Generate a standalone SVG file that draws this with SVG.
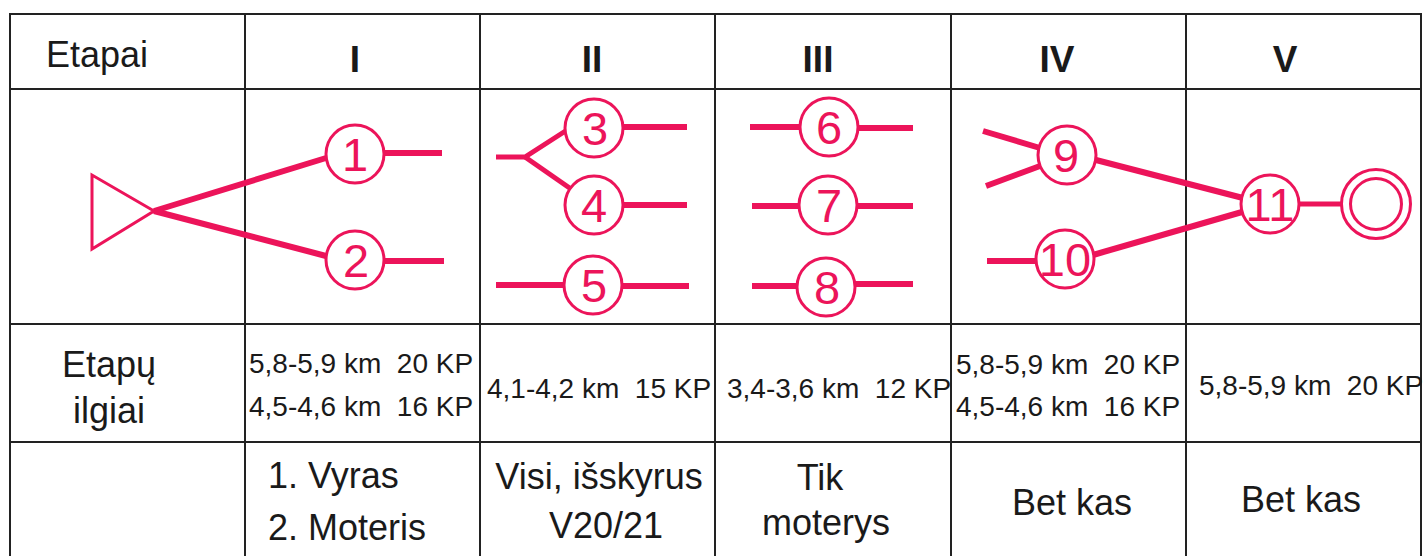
<svg xmlns="http://www.w3.org/2000/svg" width="1423" height="556" viewBox="0 0 1423 556">
<style>
.grid{stroke:#222;stroke-width:2;fill:none}
.c{fill:#fff;stroke:#EC145A;stroke-width:3}
.ln{stroke:#EC145A;stroke-width:6;fill:none;stroke-linecap:butt}
.num{font-family:"Liberation Sans",Arial,sans-serif;font-size:47px;fill:#EC145A;text-anchor:middle}
.hd{font-family:"Liberation Sans",Arial,sans-serif;font-size:36px;fill:#1a1a1a}
.rn{font-family:"Liberation Sans",Arial,sans-serif;font-size:37px;font-weight:bold;fill:#1a1a1a;text-anchor:middle}
.d{font-family:"Liberation Sans",Arial,sans-serif;font-size:28px;fill:#1a1a1a;white-space:pre}
.b{font-family:"Liberation Sans",Arial,sans-serif;font-size:36px;fill:#1a1a1a;text-anchor:middle}
</style>
<rect width="1423" height="556" fill="#fff"/>
<g id="table" class="grid">
<rect x="10" y="14" width="1411" height="560"/>
<line x1="10" y1="89" x2="1421" y2="89"/>
<line x1="10" y1="324" x2="1421" y2="324"/>
<line x1="10" y1="442" x2="1421" y2="442"/>
<line x1="245" y1="14" x2="245" y2="556"/>
<line x1="480" y1="14" x2="480" y2="556"/>
<line x1="715" y1="14" x2="715" y2="556"/>
<line x1="951" y1="14" x2="951" y2="556"/>
<line x1="1186" y1="14" x2="1186" y2="556"/>
</g>
<g id="labels">
<text class="hd" x="46" y="67">Etapai</text>
<text class="rn" x="355" y="72">I</text>
<text class="rn" x="592" y="72">II</text>
<text class="rn" x="818" y="72">III</text>
<text class="rn" x="1057" y="72">IV</text>
<text class="rn" x="1285" y="72">V</text>
<text class="hd" x="62" y="377" font-size="37">Etapų</text>
<text class="hd" x="73" y="423" font-size="37">ilgiai</text>
<text class="d" x="249" y="373">5,8-5,9 km  20 KP</text>
<text class="d" x="249" y="416">4,5-4,6 km  16 KP</text>
<text class="d" x="487" y="398">4,1-4,2 km  15 KP</text>
<text class="d" x="727" y="398">3,4-3,6 km  12 KP</text>
<text class="d" x="956" y="374">5,8-5,9 km  20 KP</text>
<text class="d" x="956" y="416">4,5-4,6 km  16 KP</text>
<text class="d" x="1199" y="395">5,8-5,9 km  20 KP</text>
<text class="hd" x="268" y="488">1. Vyras</text>
<text class="hd" x="268" y="540">2. Moteris</text>
<text class="b" x="599" y="489" font-size="37">Visi, išskyrus</text>
<text class="b" x="606" y="538">V20/21</text>
<text class="b" x="820" y="490">Tik</text>
<text class="b" x="826" y="535">moterys</text>
<text class="b" x="1072" y="515">Bet kas</text>
<text class="b" x="1301" y="512">Bet kas</text>
</g>
<g id="connectors" class="ln">
<line x1="154" y1="211" x2="326" y2="158"/>
<line x1="154" y1="211" x2="326" y2="256"/>
<line x1="384" y1="153" x2="442" y2="153"/>
<line x1="385" y1="261" x2="444" y2="261"/>
<polyline points="496,157 525,157 567,130" stroke-width="5"/>
<line x1="525" y1="157" x2="571" y2="189" stroke-width="5"/>
<line x1="623" y1="127" x2="687" y2="127"/>
<line x1="623" y1="205" x2="687" y2="205"/>
<line x1="496" y1="285" x2="564" y2="285"/>
<line x1="622" y1="286" x2="689" y2="286"/>
<line x1="750" y1="127" x2="800" y2="127"/>
<line x1="858" y1="128" x2="913" y2="128"/>
<line x1="752" y1="206" x2="799" y2="206"/>
<line x1="857" y1="206" x2="913" y2="206"/>
<line x1="752" y1="286" x2="797" y2="286"/>
<line x1="855" y1="284" x2="913" y2="284"/>
<line x1="983" y1="131" x2="1040" y2="148"/>
<line x1="986" y1="186" x2="1040" y2="166"/>
<line x1="987" y1="261" x2="1036" y2="261"/>
<line x1="1096" y1="160" x2="1243" y2="198"/>
<line x1="1093" y1="255" x2="1242" y2="212"/>
<line x1="1299" y1="204" x2="1342" y2="204" stroke-width="5"/>
</g>
<g id="start"><polygon points="92,175 92,249 154,211" fill="#fff" stroke="#EC145A" stroke-width="3"/></g>
<g id="n1"><circle class="c" cx="355" cy="154" r="29"/><text class="num" x="355" y="171">1</text></g>
<g id="n2"><circle class="c" cx="355" cy="260" r="29"/><text class="num" x="356" y="277">2</text></g>
<g id="n3"><circle class="c" cx="594" cy="128" r="29"/><text class="num" x="595" y="145">3</text></g>
<g id="n4"><circle class="c" cx="594" cy="205" r="29"/><text class="num" x="594" y="222">4</text></g>
<g id="n5"><circle class="c" cx="593" cy="285" r="29"/><text class="num" x="594" y="302">5</text></g>
<g id="n6"><circle class="c" cx="829" cy="127" r="29"/><text class="num" x="829" y="144">6</text></g>
<g id="n7"><circle class="c" cx="828" cy="205" r="29"/><text class="num" x="829" y="222">7</text></g>
<g id="n8"><circle class="c" cx="826" cy="287" r="29"/><text class="num" x="827" y="304">8</text></g>
<g id="n9"><circle class="c" cx="1067" cy="155" r="29"/><text class="num" x="1066" y="172">9</text></g>
<g id="n10"><circle class="c" cx="1065" cy="259" r="29"/><text class="num" x="1065" y="276" font-size="48">10</text></g>
<g id="n11"><circle class="c" cx="1270" cy="204" r="29"/><text class="num" x="1270" y="221" font-size="48">11</text></g>
<g id="finish"><circle class="c" cx="1376" cy="204" r="34.5" stroke-width="3.5"/><circle class="c" cx="1376" cy="204" r="25.5" stroke-width="3.5"/></g>
</svg>
